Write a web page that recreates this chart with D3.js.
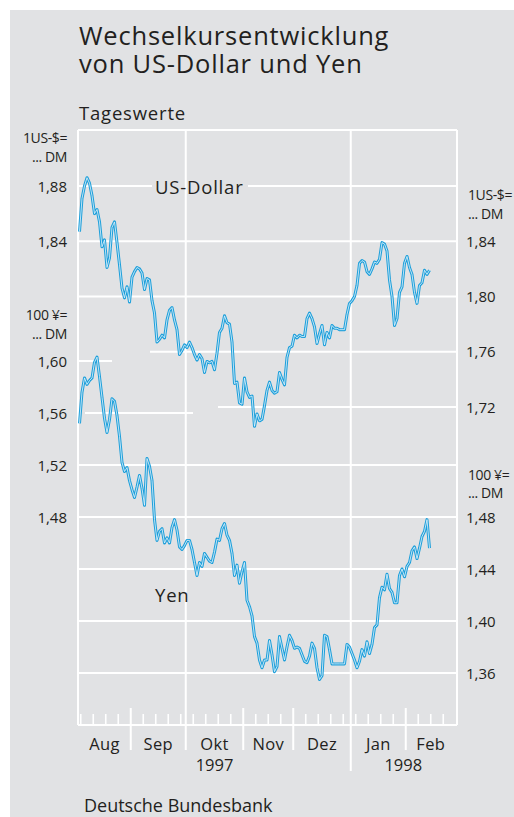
<!DOCTYPE html>
<html>
<head>
<meta charset="utf-8">
<script src="https://cdn.jsdelivr.net/npm/d3@7"></script>
<style>
  html, body { margin: 0; padding: 0; background: #fff; }
  #chart { position: relative; width: 514px; height: 817px; }
  svg { display: block; font-family: "Open Sans", "Noto Sans", sans-serif; }
  text { fill: #231f20; }
  .title {
    position: absolute; left: 79px; top: 20.9px; margin: 0;
    font-family: "Open Sans", "Noto Sans", sans-serif; font-weight: normal;
    font-size: 25.5px; line-height: 28.5px; letter-spacing: 0.8px;
    color: #231f20; white-space: nowrap;
  }
</style>
</head>
<body>
<div id="chart"></div>
<script>
// chart data: daily values (DM), one per trading day from 1 Aug 1997
const usd = [
  1.847, 1.871, 1.880, 1.886, 1.882, 1.873, 1.860, 1.863, 1.854, 1.836,
  1.841, 1.821, 1.828, 1.850, 1.854, 1.839, 1.823, 1.806, 1.799, 1.807,
  1.796, 1.814, 1.818, 1.821, 1.820, 1.817, 1.805, 1.813, 1.812, 1.797,
  1.788, 1.767, 1.769, 1.772, 1.770, 1.783, 1.790, 1.792, 1.783, 1.776,
  1.758, 1.761, 1.765, 1.763, 1.767, 1.763, 1.758, 1.754, 1.758, 1.755,
  1.745, 1.753, 1.752, 1.753, 1.747, 1.759, 1.774, 1.777, 1.786, 1.781,
  1.780, 1.767, 1.737, 1.738, 1.723, 1.722, 1.741, 1.731, 1.727, 1.728,
  1.706, 1.715, 1.710, 1.711, 1.721, 1.732, 1.738, 1.732, 1.730, 1.731,
  1.745, 1.740, 1.736, 1.756, 1.763, 1.764, 1.772, 1.770, 1.772, 1.771,
  1.771, 1.784, 1.788, 1.784, 1.778, 1.766, 1.773, 1.779, 1.765, 1.774,
  1.770, 1.779, 1.777, 1.777, 1.776, 1.776, 1.776, 1.787, 1.795, 1.797,
  1.800, 1.808, 1.824, 1.826, 1.825, 1.818, 1.816, 1.820, 1.825, 1.824,
  1.827, 1.839, 1.838, 1.833, 1.812, 1.800, 1.779, 1.784, 1.803, 1.807,
  1.824, 1.829, 1.821, 1.816, 1.803, 1.795, 1.808, 1.810, 1.819, 1.816,
  1.819
];
const yen = [
  1.552, 1.576, 1.587, 1.582, 1.585, 1.587, 1.599, 1.603, 1.588, 1.572,
  1.556, 1.545, 1.555, 1.571, 1.569, 1.558, 1.542, 1.522, 1.515, 1.518,
  1.508, 1.501, 1.495, 1.503, 1.512, 1.502, 1.489, 1.525, 1.519, 1.508,
  1.478, 1.462, 1.469, 1.471, 1.460, 1.464, 1.460, 1.472, 1.478, 1.470,
  1.457, 1.455, 1.458, 1.462, 1.462, 1.455, 1.445, 1.435, 1.445, 1.442,
  1.452, 1.449, 1.446, 1.445, 1.453, 1.463, 1.462, 1.471, 1.475, 1.466,
  1.462, 1.452, 1.435, 1.443, 1.429, 1.438, 1.445, 1.416, 1.411, 1.404,
  1.388, 1.383, 1.370, 1.364, 1.370, 1.370, 1.385, 1.374, 1.361, 1.365,
  1.388, 1.379, 1.370, 1.380, 1.389, 1.385, 1.379, 1.380, 1.379, 1.374,
  1.369, 1.368, 1.373, 1.383, 1.379, 1.364, 1.355, 1.358, 1.389, 1.388,
  1.378, 1.367, 1.367, 1.367, 1.367, 1.367, 1.367, 1.382, 1.380, 1.375,
  1.370, 1.364, 1.369, 1.378, 1.373, 1.384, 1.375, 1.382, 1.395, 1.397,
  1.418, 1.426, 1.424, 1.436, 1.425, 1.422, 1.414, 1.414, 1.435, 1.440,
  1.434, 1.442, 1.445, 1.454, 1.457, 1.448, 1.456, 1.465, 1.469, 1.478,
  1.456
];

const monthLabels = ["Aug", "Sep", "Okt", "Nov", "Dez", "Jan", "Feb"];
const yearLabels = ["1997", "1998"];
const usdTicksLeft = [1.88, 1.84];
const usdTicksRight = [1.84, 1.80, 1.76, 1.72];
const yenTicksLeft = [1.60, 1.56, 1.52, 1.48];
const yenTicksRight = [1.48, 1.44, 1.40, 1.36];

// trading days (Mon-Fri) shown on the time axis
const days = d3.timeDay.range(new Date(1997, 7, 1), new Date(1998, 1, 28))
  .filter(d => d.getDay() > 0 && d.getDay() < 6);

const W = 514, H = 817;
const plotL = 78, plotR = 457, plotT = 130, plotB = 725;
const blue = "#1d9fda";
const grid = "#ffffff";

const x = d3.scaleLinear().domain([-0.6, 151]).range([plotL, plotR]);
const yUsd = d3.scaleLinear().domain([1.72, 1.88]).range([407, 186]);
const yYen = d3.scaleLinear().domain([1.36, 1.60]).range([673, 361]);
const fmt = v => d3.format(".2f")(v).replace(".", ",");

const svg = d3.select("#chart").append("svg")
  .attr("width", W)
  .attr("height", H);

svg.append("rect")
  .attr("x", 10).attr("y", 10)
  .attr("width", W - 10).attr("height", H - 10)
  .attr("fill", "#e1e2e4");

// horizontal grid segments (some are cut short around the curves/labels)
const gridUsd = [
  {v: 1.88, segs: [[plotL, 152], [248, plotR]]},
  {v: 1.84, segs: [[plotL, plotR]]},
  {v: 1.80, segs: [[plotL, plotR]]},
  {v: 1.76, segs: [[150, plotR]]},
  {v: 1.72, segs: [[218, plotR]]}
];
const gridYen = [
  {v: 1.60, segs: [[plotL, 112]]},
  {v: 1.56, segs: [[85, 193]]},
  {v: 1.52, segs: [[plotL, plotR]]},
  {v: 1.48, segs: [[plotL, plotR]]},
  {v: 1.44, segs: [[plotL, plotR]]},
  {v: 1.40, segs: [[plotL, plotR]]},
  {v: 1.36, segs: [[plotL, plotR]]}
];

const gGrid = svg.append("g").attr("stroke", grid).attr("stroke-width", 2);
function drawGrid(list, scale) {
  list.forEach(g => {
    g.segs.forEach(s => {
      gGrid.append("line")
        .attr("x1", s[0]).attr("x2", s[1])
        .attr("y1", scale(g.v)).attr("y2", scale(g.v));
    });
  });
}
drawGrid(gridUsd, yUsd);
drawGrid(gridYen, yYen);

// frame
gGrid.append("line").attr("x1", plotL).attr("x2", plotR).attr("y1", plotT).attr("y2", plotT);
gGrid.append("line").attr("x1", plotL).attr("x2", plotR).attr("y1", plotB).attr("y2", plotB);
gGrid.append("line").attr("x1", plotL).attr("x2", plotL).attr("y1", plotT).attr("y2", plotB);
gGrid.append("line").attr("x1", plotR).attr("x2", plotR).attr("y1", plotT).attr("y2", plotB);

// time axis ticks: weekly (Mondays), month starts, quarter grid lines
days.forEach((d, i) => {
  if (i === 0) return;
  const monthStart = d.getMonth() !== days[i - 1].getMonth();
  const xx = x(i - 0.5);
  if (monthStart) {
    const quarter = d.getMonth() % 3 === 0;
    const yearStart = d.getMonth() === 0;
    gGrid.append("line")
      .attr("x1", xx).attr("x2", xx)
      .attr("y1", quarter ? plotT : 708)
      .attr("y2", yearStart ? 771 : 750);
  } else if (d.getDay() === 1) {
    gGrid.append("line")
      .attr("stroke-width", 1.6)
      .attr("x1", xx).attr("x2", xx)
      .attr("y1", 714).attr("y2", plotB);
  }
});

// month and year labels
const monthIdx = d3.range(monthLabels.length).map(m => {
  const idx = days.map((d, i) => i).filter(i => (days[i].getFullYear() - 1997) * 12 + days[i].getMonth() - 7 === m);
  return {first: idx[0], last: idx[idx.length - 1]};
});
svg.append("g").selectAll("text")
  .data(monthLabels)
  .join("text")
  .attr("x", (m, k) => (x(monthIdx[k].first - 0.5) + x(monthIdx[k].last + 0.5)) / 2)
  .attr("y", 750)
  .attr("text-anchor", "middle")
  .attr("font-size", 16.5)
  .attr("letter-spacing", 0.3)
  .text(m => m);

const yearSpans = [[0, 4], [5, 6]];
svg.append("g").selectAll("text")
  .data(yearLabels)
  .join("text")
  .attr("x", (yl, k) => (x(monthIdx[yearSpans[k][0]].first - 0.5) + Math.min(plotR, x(monthIdx[yearSpans[k][1]].last + 0.5))) / 2)
  .attr("y", 771)
  .attr("text-anchor", "middle")
  .attr("font-size", 16.5)
  .text(yl => yl);

// value labels
function tickLabels(vals, scale, xx, anchor) {
  svg.append("g").selectAll("text")
    .data(vals)
    .join("text")
    .attr("x", xx)
    .attr("y", v => scale(v) + 5.5)
    .attr("text-anchor", anchor)
    .attr("font-size", 15)
    .text(fmt);
}
tickLabels(usdTicksLeft, yUsd, 67, "end");
tickLabels(yenTicksLeft, yYen, 67, "end");
tickLabels(usdTicksRight, yUsd, 466, "start");
tickLabels(yenTicksRight, yYen, 466, "start");

function unitLabel(lines, xx, y0, anchor) {
  svg.append("g").selectAll("text")
    .data(lines)
    .join("text")
    .attr("x", xx)
    .attr("y", (t, k) => y0 + k * 18.5)
    .attr("text-anchor", anchor)
    .attr("font-size", 14)
    .attr("letter-spacing", -0.4)
    .text(t => t);
}
unitLabel(["1US-$=", "... DM"], 67, 143, "end");
unitLabel(["100 ¥=", "... DM"], 67, 320, "end");
unitLabel(["1US-$=", "... DM"], 468, 200, "start");
unitLabel(["100 ¥=", "... DM"], 468, 479.5, "start");

// the two curves: blue stroke with a light core
function drawSeries(vals, scale) {
  const line = d3.line()
    .x((v, i) => x(i))
    .y(v => scale(v));
  svg.append("path")
    .datum(vals)
    .attr("d", line)
    .attr("fill", "none")
    .attr("stroke", blue)
    .attr("stroke-width", 3)
    .attr("stroke-linejoin", "round");
  svg.append("path")
    .datum(vals)
    .attr("d", line)
    .attr("fill", "none")
    .attr("stroke", "#e9f5fc")
    .attr("stroke-width", 0.8)
    .attr("stroke-linejoin", "round");
}
drawSeries(usd, yUsd);
drawSeries(yen, yYen);

// series labels
svg.append("text").attr("x", 155).attr("y", 193.5).attr("font-size", 18.5)
  .attr("letter-spacing", 0.8).text("US-Dollar");
svg.append("text").attr("x", 155).attr("y", 601.5).attr("font-size", 18.5)
  .attr("letter-spacing", 0.8).text("Yen");

// title: one text block on two lines
d3.select("#chart").append("div")
  .attr("class", "title")
  .html("Wechselkursentwicklung<br>von US-Dollar und Yen");

svg.append("text").attr("x", 79).attr("y", 119.5).attr("font-size", 18.5)
  .attr("letter-spacing", 0.8).text("Tageswerte");
svg.append("text").attr("x", 84).attr("y", 811.5).attr("font-size", 18)
  .text("Deutsche Bundesbank");
</script>
</body>
</html>
